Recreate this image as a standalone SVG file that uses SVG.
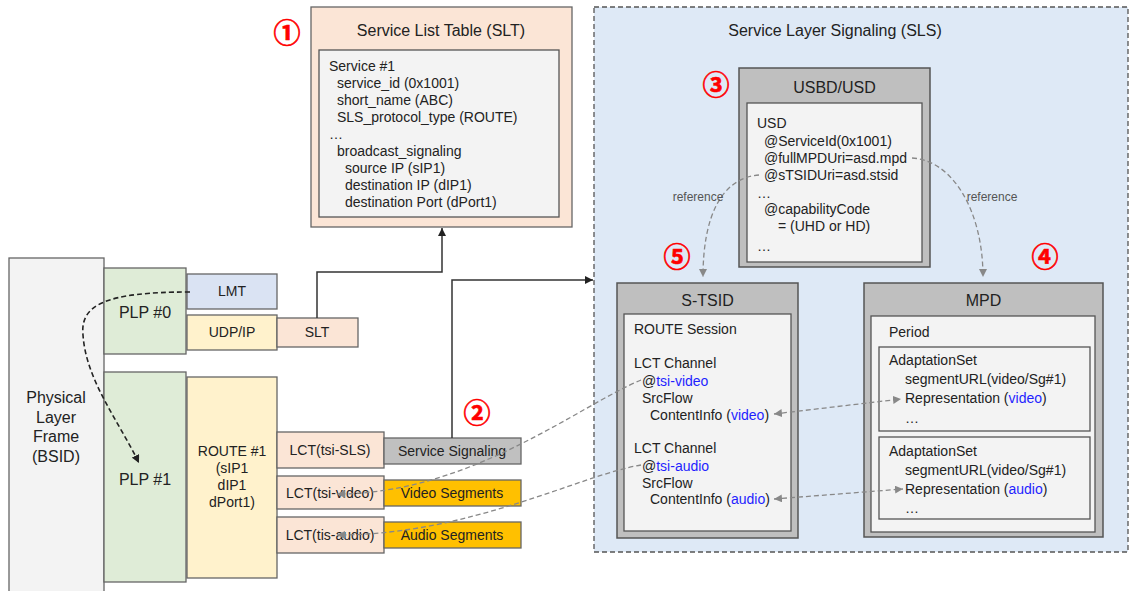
<svg xmlns="http://www.w3.org/2000/svg" width="1129" height="591" viewBox="0 0 1129 591">
<defs>
<style>
text{font-family:"Liberation Sans",Arial,sans-serif;fill:#222;}
.t14{font-size:14px;}
.t16{font-size:16px;}
.mid{text-anchor:middle;}
.ref{font-size:12px;fill:#555;text-anchor:middle;}
.num{font-family:"Noto Sans CJK JP","DejaVu Sans",sans-serif;font-size:27px;font-weight:bold;fill:#ff0000;stroke:#ff0000;stroke-width:0.6;text-anchor:middle;}
.blue{fill:#1f1fff;}
.box{stroke:#666;stroke-width:1.3;}
.gray{fill:#bfbfbf;stroke:#555;stroke-width:1.5;}
.inner{fill:#f3f3f3;stroke:#555;stroke-width:1.3;}
.solid{fill:none;stroke:#333;stroke-width:1.5;}
.dash{fill:none;stroke:#888;stroke-width:1.3;stroke-dasharray:5,3;}
.dashk{fill:none;stroke:#222;stroke-width:1.6;stroke-dasharray:5,3;}
</style>
<marker id="ak" viewBox="0 0 10 10" refX="10" refY="5" markerWidth="8" markerHeight="8" markerUnits="userSpaceOnUse" orient="auto-start-reverse"><path d="M0,0L10,5L0,10z" fill="#222"/></marker>
<marker id="ag" viewBox="0 0 10 10" refX="10" refY="5" markerWidth="8" markerHeight="8" markerUnits="userSpaceOnUse" orient="auto-start-reverse"><path d="M0,0L10,5L0,10z" fill="#888"/></marker>
</defs>
<rect width="1129" height="591" fill="#ffffff"/>

<g id="sls">
<rect x="594" y="7" width="534" height="545" fill="#dee9f6" stroke="#555" stroke-width="1.3" stroke-dasharray="5,3"/>
<text class="t16 mid" x="835" y="36">Service Layer Signaling (SLS)</text>
</g>

<g id="physical-frame">
<rect class="box" x="9" y="258" width="95" height="340" fill="#f3f3f3"/>
<text class="t16 mid" x="56" y="403">Physical</text>
<text class="t16 mid" x="56" y="423">Layer</text>
<text class="t16 mid" x="56" y="442">Frame</text>
<text class="t16 mid" x="56" y="462">(BSID)</text>
</g>

<g id="plp0">
<rect class="box" x="104" y="268" width="82" height="86" fill="#dfecd7"/>
<text class="t16 mid" x="145" y="318">PLP #0</text>
</g>
<g id="plp1">
<rect class="box" x="104" y="372" width="82" height="210" fill="#dfecd7"/>
<text class="t16 mid" x="145" y="485">PLP #1</text>
</g>
<g id="lmt">
<rect class="box" x="187" y="274" width="90" height="35" fill="#dae3f3"/>
<text class="t14 mid" x="232" y="296">LMT</text>
</g>
<g id="udpip">
<rect class="box" x="187" y="315" width="90" height="35" fill="#fff2cc"/>
<text class="t14 mid" x="232" y="337">UDP/IP</text>
</g>
<g id="slt-packet">
<rect class="box" x="277" y="318" width="81" height="29" fill="#fbe5d6"/>
<text class="t14 mid" x="317" y="337">SLT</text>
</g>
<g id="route1">
<rect class="box" x="187" y="377" width="90" height="201" fill="#fff2cc"/>
<text class="t14 mid" x="232" y="456">ROUTE #1</text>
<text class="t14 mid" x="232" y="473">(sIP1</text>
<text class="t14 mid" x="232" y="490">dIP1</text>
<text class="t14 mid" x="232" y="507">dPort1)</text>
</g>
<g id="lct-sls">
<rect class="box" x="277" y="432" width="107" height="36" fill="#fbe5d6"/>
<text class="t14 mid" x="330" y="455">LCT(tsi-SLS)</text>
</g>
<g id="service-signaling">
<rect class="box" x="384" y="438" width="137" height="26" fill="#c0c0c0"/>
<text class="t14 mid" x="452" y="456">Service Signaling</text>
</g>
<g id="lct-video">
<rect class="box" x="277" y="476" width="107" height="33" fill="#fbe5d6"/>
<text class="t14 mid" x="330" y="498">LCT(tsi-video)</text>
</g>
<g id="video-segments">
<rect class="box" x="384" y="480" width="137" height="26" fill="#ffc000"/>
<text class="t14 mid" x="452" y="498">Video Segments</text>
</g>
<g id="lct-audio">
<rect class="box" x="277" y="517" width="107" height="36" fill="#fbe5d6"/>
<text class="t14 mid" x="330" y="540">LCT(tis-audio)</text>
</g>
<g id="audio-segments">
<rect class="box" x="384" y="522" width="137" height="26" fill="#ffc000"/>
<text class="t14 mid" x="452" y="540">Audio Segments</text>
</g>

<g id="slt-table">
<rect class="box" x="311" y="7" width="261" height="220" fill="#fbe5d6"/>
<text class="t16 mid" x="441" y="36">Service List Table (SLT)</text>
<rect class="inner" x="319" y="50" width="240" height="167"/>
<text class="t14" x="329" y="71">Service #1</text>
<text class="t14" x="337" y="88">service_id (0x1001)</text>
<text class="t14" x="337" y="105">short_name (ABC)</text>
<text class="t14" x="337" y="122">SLS_protocol_type (ROUTE)</text>
<text class="t14" x="329" y="139">…</text>
<text class="t14" x="337" y="156">broadcast_signaling</text>
<text class="t14" x="345" y="173">source IP (sIP1)</text>
<text class="t14" x="345" y="190">destination IP (dIP1)</text>
<text class="t14" x="345" y="207">destination Port (dPort1)</text>
</g>

<g id="usbd">
<rect class="gray" x="739" y="68" width="191" height="199"/>
<text class="t16 mid" x="834.5" y="93">USBD/USD</text>
<rect class="inner" x="747" y="103" width="175" height="159"/>
<text class="t14" x="757" y="128">USD</text>
<text class="t14" x="764" y="146">@ServiceId(0x1001)</text>
<text class="t14" x="764" y="163">@fullMPDUri=asd.mpd</text>
<text class="t14" x="764" y="180">@sTSIDUri=asd.stsid</text>
<text class="t14" x="757" y="198">…</text>
<text class="t14" x="764" y="214">@capabilityCode</text>
<text class="t14" x="778" y="231">= (UHD or HD)</text>
<text class="t14" x="757" y="251">…</text>
</g>

<g id="stsid">
<rect class="gray" x="617" y="283" width="181" height="255"/>
<text class="t16 mid" x="707.5" y="306">S-TSID</text>
<rect class="inner" x="624" y="314" width="167" height="217"/>
<text class="t14" x="634" y="334">ROUTE Session</text>
<text class="t14" x="634" y="368">LCT Channel</text>
<text class="t14" x="642" y="386">@<tspan class="blue">tsi-video</tspan></text>
<text class="t14" x="642" y="403">SrcFlow</text>
<text class="t14" x="650" y="420">ContentInfo (<tspan class="blue">video</tspan>)</text>
<text class="t14" x="634" y="453">LCT Channel</text>
<text class="t14" x="642" y="471">@<tspan class="blue">tsi-audio</tspan></text>
<text class="t14" x="642" y="488">SrcFlow</text>
<text class="t14" x="650" y="504">ContentInfo (<tspan class="blue">audio</tspan>)</text>
</g>

<g id="mpd">
<rect class="gray" x="864" y="283" width="239" height="254"/>
<text class="t16 mid" x="983.5" y="306">MPD</text>
<rect class="inner" x="871" y="316" width="224" height="216"/>
<text class="t14" x="889" y="337">Period</text>
<rect class="inner" x="879" y="347" width="211" height="84"/>
<text class="t14" x="889" y="365">AdaptationSet</text>
<text class="t14" x="905" y="384">segmentURL(video/Sg#1)</text>
<text class="t14" x="905" y="403">Representation (<tspan class="blue">video</tspan>)</text>
<text class="t14" x="905" y="423">…</text>
<rect class="inner" x="879" y="437" width="211" height="82"/>
<text class="t14" x="889" y="456">AdaptationSet</text>
<text class="t14" x="905" y="475">segmentURL(video/Sg#1)</text>
<text class="t14" x="905" y="494">Representation (<tspan class="blue">audio</tspan>)</text>
<text class="t14" x="905" y="513">…</text>
</g>

<g id="markers">
<text class="num" x="287" y="43">①</text>
<text class="num" x="477" y="423">②</text>
<text class="num" x="716" y="95">③</text>
<text class="num" x="1045" y="267">④</text>
<text class="num" x="677" y="267">⑤</text>
</g>

<g id="connectors">
<path class="solid" d="M317,318V272H442V228" marker-end="url(#ak)"/>
<path class="solid" d="M452,438V280H593" marker-end="url(#ak)"/>
<path class="dashk" d="M190,292C105,292 80,305 83,335C86,380 118,420 139,463" marker-end="url(#ak)"/>
<path class="dash" d="M759,175C722,178 703,215 703,277" marker-end="url(#ag)"/>
<path class="dash" d="M912,158C952,160 983,210 983,277" marker-end="url(#ag)"/>
<text class="ref" x="698" y="201">reference</text>
<text class="ref" x="992" y="201">reference</text>
<path class="dash" d="M641,380C580,405 470,494 337,494" marker-end="url(#ag)"/>
<path class="dash" d="M641,465C580,475 470,535 337,535" marker-end="url(#ag)"/>
<path class="dash" d="M774,414L901,399" marker-start="url(#ag)" marker-end="url(#ag)"/>
<path class="dash" d="M774,499L903,489" marker-start="url(#ag)" marker-end="url(#ag)"/>
</g>
</svg>
